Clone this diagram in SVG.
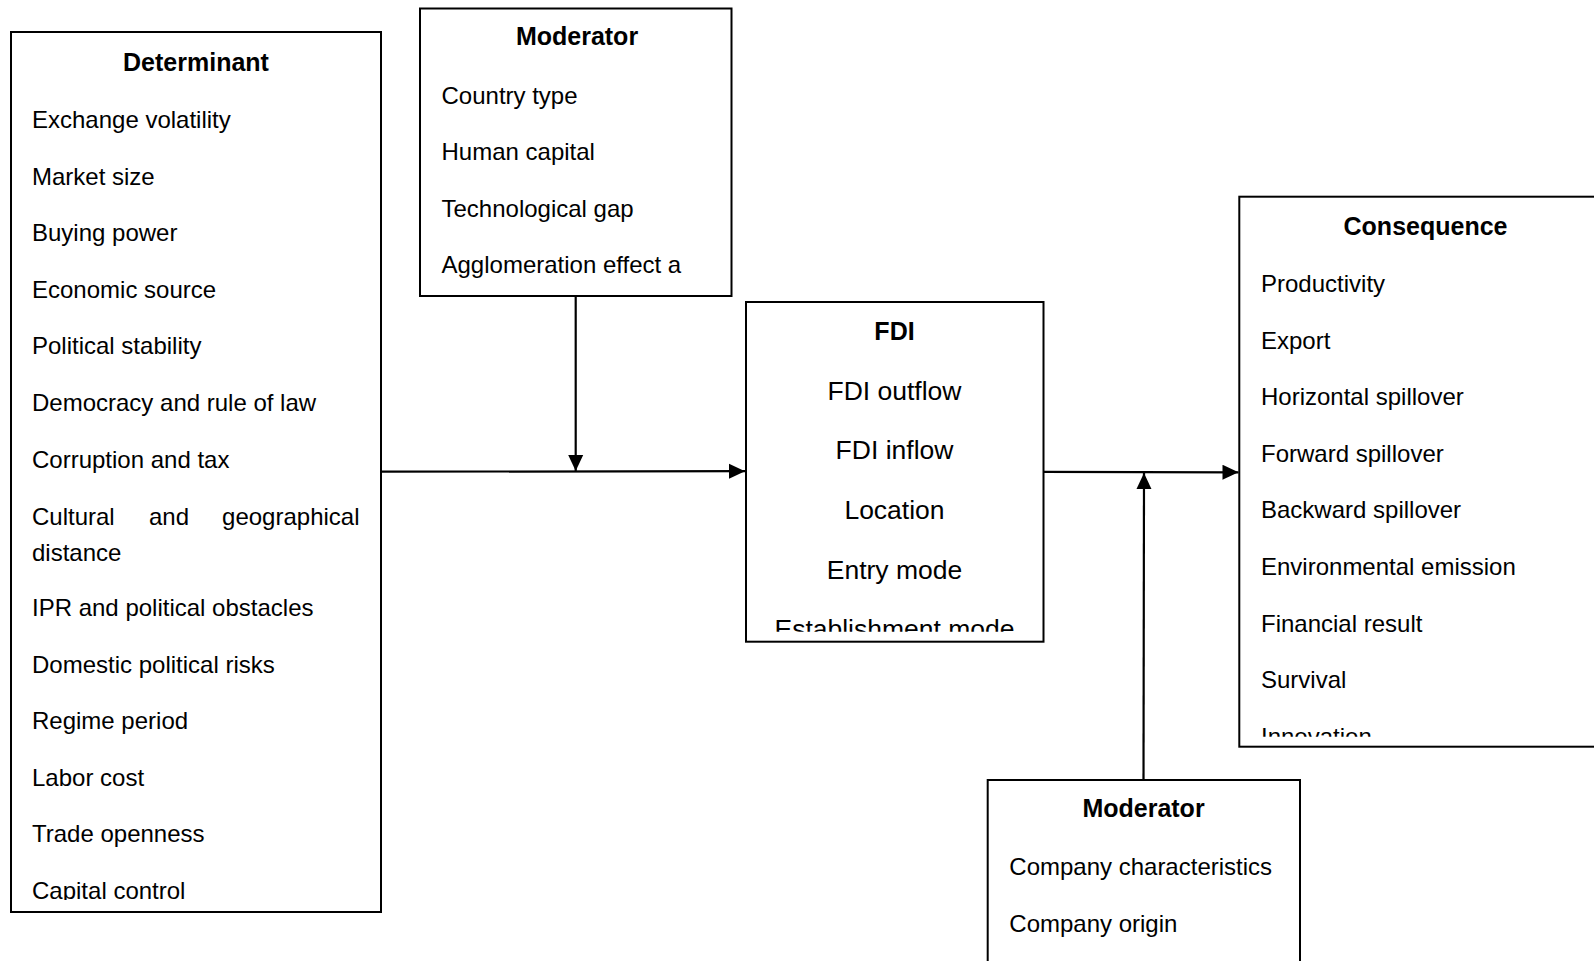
<svg xmlns="http://www.w3.org/2000/svg" width="1594" height="961" viewBox="0 0 1594 961">
<style>
.box{fill:#fff;stroke:#000;stroke-width:2}
.t{font-family:"Liberation Sans",Arial,sans-serif;font-size:24px;fill:#000}
.h{font-family:"Liberation Sans",Arial,sans-serif;font-size:25px;font-weight:bold;fill:#000;text-anchor:middle}
.f{font-family:"Liberation Sans",Arial,sans-serif;font-size:26.5px;fill:#000;text-anchor:middle}
.c{stroke:#000;stroke-width:2.2;fill:none}
</style>
<defs>
<marker id="arr" markerUnits="userSpaceOnUse" markerWidth="18" markerHeight="16" refX="16" refY="8" orient="auto">
<path d="M0,0.5 L16,8 L0,15.5 Z" fill="#000"/>
</marker>
<clipPath id="clipDet"><rect x="11" y="32" width="370" height="868"/></clipPath>
<clipPath id="clipFdi"><rect x="746" y="302" width="297" height="329.7"/></clipPath>
<clipPath id="clipCon"><rect x="1239" y="197" width="400" height="539.7"/></clipPath>
</defs>

<g id="determinant">
<rect class="box" x="11" y="32" width="370" height="880"/>
<text class="h" x="196" y="71">Determinant</text>
<g clip-path="url(#clipDet)">
<text class="t" x="32" y="128">Exchange volatility</text>
<text class="t" x="32" y="184.5">Market size</text>
<text class="t" x="32" y="241">Buying power</text>
<text class="t" x="32" y="297.5">Economic source</text>
<text class="t" x="32" y="354">Political stability</text>
<text class="t" x="32" y="411">Democracy and rule of law</text>
<text class="t" x="32" y="468">Corruption and tax</text>
<text class="t" x="32" y="525">Cultural</text>
<text class="t" x="149" y="525">and</text>
<text class="t" x="359.5" y="525" text-anchor="end">geographical</text>
<text class="t" x="32" y="560.5">distance</text>
<text class="t" x="32" y="616">IPR and political obstacles</text>
<text class="t" x="32" y="672.5">Domestic political risks</text>
<text class="t" x="32" y="729">Regime period</text>
<text class="t" x="32" y="785.5">Labor cost</text>
<text class="t" x="32" y="842">Trade openness</text>
<text class="t" x="32" y="898.5">Capital control</text>
</g>
</g>

<g id="moderator-top">
<rect class="box" x="420" y="8.5" width="311.5" height="287.5"/>
<text class="h" x="577" y="45">Moderator</text>
<text class="t" x="441.5" y="103.5">Country type</text>
<text class="t" x="441.5" y="160">Human capital</text>
<text class="t" x="441.5" y="216.5">Technological gap</text>
<text class="t" x="441.5" y="273">Agglomeration effect a</text>
</g>

<g id="fdi">
<rect class="box" x="746" y="302" width="297.5" height="339.7"/>
<text class="h" x="894.5" y="340">FDI</text>
<g clip-path="url(#clipFdi)">
<text class="f" x="894.5" y="399.5">FDI outflow</text>
<text class="f" x="894.5" y="459.2">FDI inflow</text>
<text class="f" x="894.5" y="518.9">Location</text>
<text class="f" x="894.5" y="578.6">Entry mode</text>
<text class="f" x="894.5" y="638.3">Establishment mode</text>
</g>
</g>

<g id="consequence">
<rect class="box" x="1239.3" y="196.7" width="400" height="550"/>
<text class="h" x="1425.5" y="235">Consequence</text>
<g clip-path="url(#clipCon)">
<text class="t" x="1261" y="292">Productivity</text>
<text class="t" x="1261" y="348.5">Export</text>
<text class="t" x="1261" y="405">Horizontal spillover</text>
<text class="t" x="1261" y="461.5">Forward spillover</text>
<text class="t" x="1261" y="518">Backward spillover</text>
<text class="t" x="1261" y="574.5">Environmental emission</text>
<text class="t" x="1261" y="631.5">Financial result</text>
<text class="t" x="1261" y="688">Survival</text>
<text class="t" x="1261" y="744.5">Innovation</text>
</g>
</g>

<g id="moderator-bottom">
<rect class="box" x="987.7" y="780" width="312.3" height="300"/>
<text class="h" x="1143.5" y="816.7">Moderator</text>
<text class="t" x="1009.3" y="875">Company characteristics</text>
<text class="t" x="1009.3" y="931.7">Company origin</text>
</g>

<g id="connectors">
<line class="c" x1="381" y1="471.7" x2="745" y2="471.2" marker-end="url(#arr)"/>
<line class="c" x1="575.7" y1="296" x2="575.7" y2="471" marker-end="url(#arr)"/>
<line class="c" x1="1043.5" y1="471.8" x2="1238.5" y2="472.3" marker-end="url(#arr)"/>
<line class="c" x1="1143.5" y1="780" x2="1144" y2="473" marker-end="url(#arr)"/>
</g>
</svg>
